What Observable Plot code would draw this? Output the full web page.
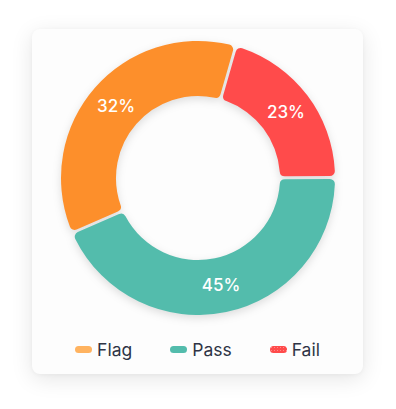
<!DOCTYPE html>
<html>
<head>
<meta charset="utf-8">
<script src="https://cdn.jsdelivr.net/npm/d3@7"></script>
<script src="https://cdn.jsdelivr.net/npm/@observablehq/plot@0.6"></script>
<style>
  html, body { margin: 0; padding: 0; background: #ffffff; }
  body { width: 396px; height: 409px; position: relative; overflow: hidden; font-family: Inter, "Noto Sans", sans-serif; }
  #card {
    position: absolute; left: 32px; top: 29px; width: 331px; height: 345px;
    background: #fdfdfd; border-radius: 8px;
    box-shadow: 0 5px 22px rgba(0,0,0,0.10), 0 1px 4px rgba(0,0,0,0.04);
  }
  #chart { position: absolute; left: 0; top: 0; }
  #legend {
    position: absolute; left: 0; top: 308px; width: 331px; height: 24px;
    display: flex; justify-content: center; align-items: center; gap: 38px;
    font-size: 17.5px; color: #2e3445;
  }
  .item { display: flex; align-items: center; gap: 5px; }
  .sw { width: 17px; height: 7px; border-radius: 4px; display: inline-block; }
</style>
</head>
<body>
<div id="card">
  <div id="chart"></div>
  <div id="legend"></div>
</div>
<script>
const categories = ["Flag", "Pass", "Fail"];
const values = [32, 45, 23];              // printed percentages
const labels = ["32%", "45%", "23%"];
const drawnShares = [36, 43.5, 20.5];     // slice sizes as drawn in the picture
const sliceColors = ["#fd8f2b", "#53bcac", "#ff4b4b"];
const swatchColors = ["#ffb360", "#53bcac", "#ff4b4b"];

const startDeg = 16;
const pie = d3.pie().sort(null).value(d => d.share)
  .startAngle((startDeg + 360) * Math.PI / 180)
  .endAngle(startDeg * Math.PI / 180);
const table = categories.map((c, i) => ({category: c, value: values[i], share: drawnShares[i], label: labels[i]}));
const arcs = pie(table);
const labelR = 0.8;
const rows = arcs.map(a => {
  const mid = (a.startAngle + a.endAngle) / 2;
  return {...a.data, startAngle: a.startAngle, endAngle: a.endAngle,
    lx: labelR * Math.sin(mid), ly: labelR * Math.cos(mid)};
});

const cx = 166, cy = 149, R = 137;
const innerFrac = 82 / 137;

function donutMark(index, scales, values, dimensions, context) {
  const x0 = scales.x(0), y0 = scales.y(0);
  const r = scales.x(1) - scales.x(0);
  const arc = d3.arc().innerRadius(r * innerFrac).outerRadius(r)
    .cornerRadius(5).padAngle(0.018);
  const g = d3.create("svg:g")
    .attr("transform", `translate(${x0},${y0})`)
    .style("filter", "drop-shadow(0px 3px 4px rgba(0,0,0,0.13))");
  g.selectAll("path").data(rows).join("path")
    .attr("d", d => arc({startAngle: d.startAngle, endAngle: d.endAngle}))
    .attr("fill", d => scales.color(d.category));
  return g.node();
}

const plot = Plot.plot({
  width: 331,
  height: 305,
  margin: 0,
  style: {background: "transparent", overflow: "visible"},
  x: {domain: [-1, 1], range: [cx - R, cx + R], axis: null},
  y: {domain: [-1, 1], range: [cy + R, cy - R], axis: null},
  color: {domain: categories, range: sliceColors},
  marks: [
    donutMark,
    Plot.text(rows, {
      x: "lx", y: "ly", text: "label",
      fill: "white", fontSize: 17, fontWeight: 500,
      fontFamily: "Inter, 'Noto Sans', sans-serif",
      textAnchor: "middle"
    })
  ]
});
document.getElementById("chart").appendChild(plot);

const legend = document.getElementById("legend");
categories.forEach((c, i) => {
  const item = document.createElement("div");
  item.className = "item";
  const sw = document.createElement("span");
  sw.className = "sw";
  sw.style.background = swatchColors[i];
  if (c === "Fail") {
    sw.style.backgroundImage = "radial-gradient(rgba(255,255,255,0.35) 0.7px, transparent 0.9px)";
    sw.style.backgroundSize = "3px 3px";
  }
  const t = document.createElement("span");
  t.textContent = c;
  item.appendChild(sw);
  item.appendChild(t);
  legend.appendChild(item);
});
</script>
</body>
</html>
